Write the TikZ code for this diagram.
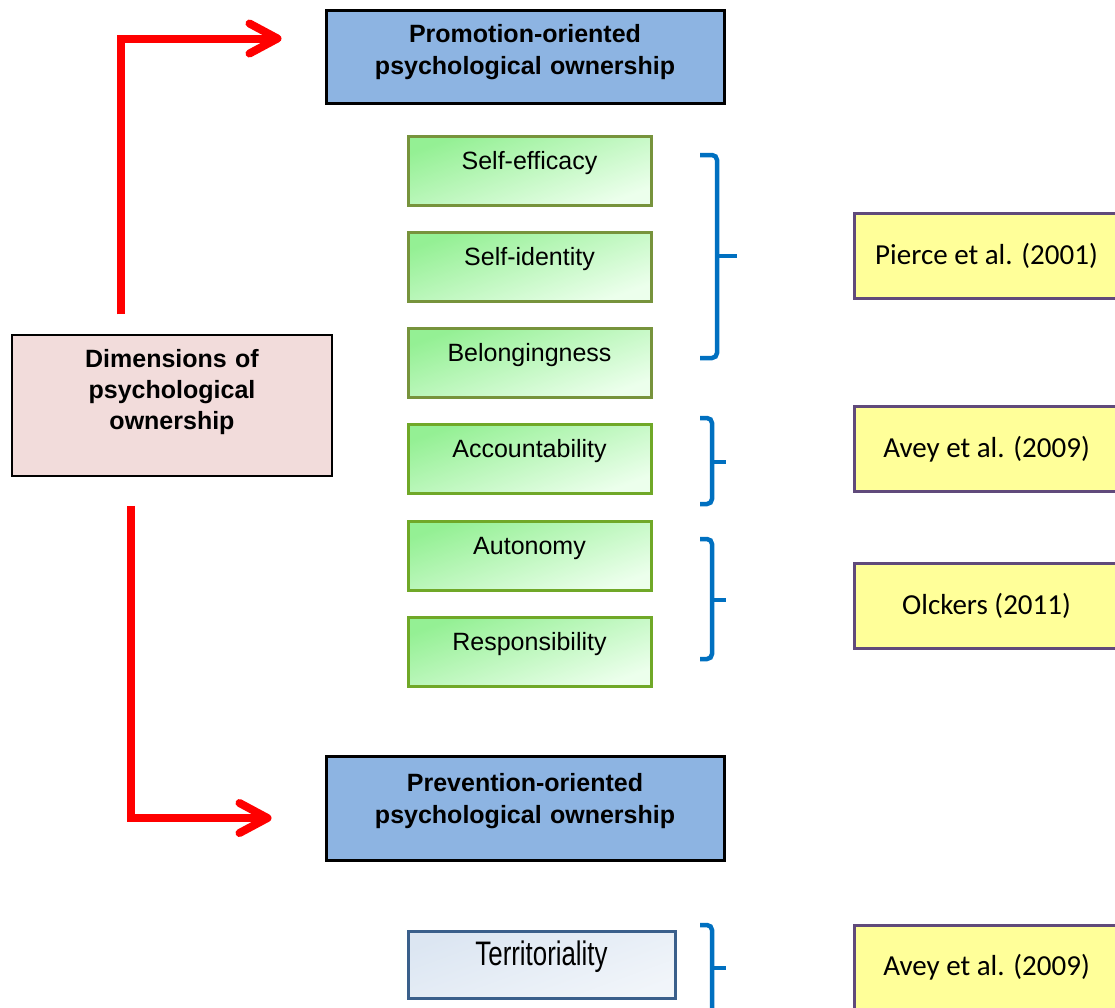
\documentclass[tikz,border=0pt]{standalone}
\usepackage{fontspec}
\setmainfont{Liberation Sans}
\newfontfamily\calibrifont{Carlito}
\newfontfamily\narrowfont[FakeStretch=0.76]{Liberation Sans}
\usetikzlibrary{arrows.meta}

\definecolor{promoblue}{RGB}{141,180,226}
\definecolor{dimpink}{RGB}{242,220,219}
\definecolor{olivegreen}{RGB}{119,147,60}
\definecolor{leafgreen}{RGB}{112,168,40}
\definecolor{greenA}{RGB}{148,240,148}
\definecolor{greenB}{RGB}{236,255,236}
\definecolor{refyellow}{RGB}{255,255,153}
\definecolor{refpurple}{RGB}{96,74,123}
\definecolor{bracketblue}{RGB}{0,112,192}
\definecolor{terrblue}{RGB}{58,95,139}
\definecolor{terrfill}{RGB}{220,230,242}

\tikzset{
  headbox/.style={draw=black, line width=3pt, fill=promoblue, inner sep=0pt,
    text width=398pt, align=center, font=\fontsize{25}{32}\selectfont\bfseries,
    text height=32pt, text depth=61pt},
  rootbox/.style={draw=black, line width=1.5pt, fill=dimpink, inner sep=0pt,
    text width=320pt, align=center, font=\fontsize{25}{31}\selectfont\bfseries,
    text height=32pt, text depth=109pt},
  dimbox/.style={draw=#1, line width=3pt, top color=greenA, bottom color=greenB,
    shading angle=20, minimum width=243pt, inner sep=0pt,
    font=\fontsize{25}{30}\selectfont, text height=33pt, text depth=36pt},
  guardbox/.style={draw=terrblue, line width=3pt, top color=terrfill, bottom color=white!60!terrfill,
    shading angle=20, minimum width=267pt, inner sep=0pt,
    font=\narrowfont\fontsize{34}{40}\selectfont, text height=34pt, text depth=33pt},
  refbox/.style={draw=refpurple, line width=3pt, fill=refyellow, minimum width=265pt,
    minimum height=85pt, inner sep=0pt, font=\calibrifont\fontsize{29}{34}\selectfont},
  growarrow/.style={draw=red, line width=8pt,
    -{Straight Barb[length=28pt, width=30pt, round]}},
  bracket/.style={draw=bracketblue, line width=4.5pt}
}

\begin{document}
\begin{tikzpicture}[x=1pt, y=-1pt]
  \useasboundingbox (0,0) rectangle (1115,1007);

  % Orientation boxes
  \node[headbox] (promo) at (525,56.5) {Promotion-oriented\\psychological ownership};
  \node[headbox, text height=35pt, text depth=69pt] (prev) at (525,808) {Prevention-oriented\\psychological ownership};

  % Root box
  \node[rootbox] (dim) at (172,405.5) {Dimensions of\\psychological\\ownership};

  % Dimension boxes
  \foreach \name/\txt/\ypos/\edge in {eff/Self-efficacy/170.5/olivegreen,
      ident/Self-identity/266.5/olivegreen, belong/Belongingness/362.5/olivegreen,
      acc/Accountability/458.5/leafgreen, auto/Autonomy/555.5/leafgreen,
      resp/Responsibility/651.5/leafgreen}
    \node[dimbox=\edge] (\name) at (529.5,\ypos) {\txt};
  \node[guardbox] (terr) at (541.5,964.5) {Territoriality};

  % Reference boxes
  \node[refbox] (pierce) at (986.5,255.5) {Pierce et al. (2001)};
  \node[refbox] (avey) at (986.5,449) {Avey et al. (2009)};
  \node[refbox] (olckers) at (986.5,605.5) {Olckers (2011)};
  \node[refbox] (aveyb) at (986.5,967.5) {Avey et al. (2009)};

  % Brackets
  \foreach \btop/\bmid/\bbot/\vx/\tip in {155/256/358/717/737, 418/462/504/712/726,
      539/600/659/712/726, 925/968/1030/712/726} {
    \draw[bracket, rounded corners=5pt] (700,\btop) -- (\vx,\btop) -- (\vx,\bbot) -- (700,\bbot);
    \draw[bracket] (\vx,\bmid) -- (\tip,\bmid);
  }

  % Arrows
  \draw[growarrow] ([xshift=-51pt,yshift=20pt]dim.north) |- ([xshift=-43pt,yshift=18pt]promo.west);
  \draw[growarrow] ([xshift=-41pt,yshift=-29pt]dim.south) |- ([xshift=-53pt,yshift=-10pt]prev.west);
\end{tikzpicture}
\end{document}
